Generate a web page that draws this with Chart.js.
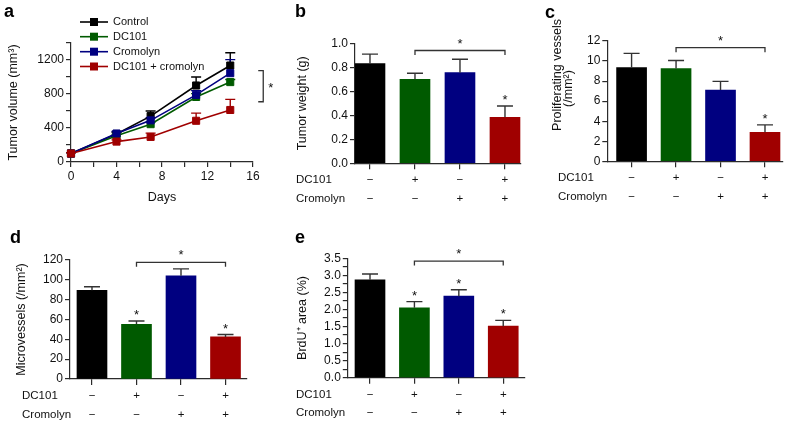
<!DOCTYPE html>
<html>
<head>
<meta charset="utf-8">
<script src="https://cdn.jsdelivr.net/npm/chart.js@4.4.1/dist/chart.umd.min.js"></script>
<style>
  html, body { margin: 0; padding: 0; background: #fff; }
  #fig { position: relative; width: 787px; height: 421px; overflow: hidden; }
  #fig canvas { position: absolute; }
</style>
</head>
<body>
<div id="fig">
  <canvas id="panelA" width="290" height="210" style="left:0;top:0"></canvas>
  <canvas id="panelB" width="250" height="210" style="left:285px;top:0"></canvas>
  <canvas id="panelC" width="252" height="210" style="left:535px;top:0"></canvas>
  <canvas id="panelD" width="290" height="211" style="left:0;top:210px"></canvas>
  <canvas id="panelE" width="250" height="211" style="left:285px;top:210px"></canvas>
</div>
<script>
// ---- data ----
const days = [0, 4, 7, 11, 14];
const controlVol = [100, 330, 540, 900, 1135];
const controlErr = [10, 20, 60, 100, 150];
const dc101Vol = [100, 310, 445, 765, 940];
const dc101Err = [10, 15, 25, 40, 30];
const cromolynVol = [100, 335, 490, 790, 1045];
const cromolynErr = [10, 25, 30, 50, 160];
const comboVol = [100, 240, 295, 485, 612];
const comboErr = [10, 20, 45, 90, 125];

const groups = ['Control', 'DC101', 'Cromolyn', 'DC101 + cromolyn'];
const dc101Signs = ['\u2212', '+', '\u2212', '+'];
const cromolynSigns = ['\u2212', '\u2212', '+', '+'];

const tumorWeight = [0.83, 0.70, 0.755, 0.383];
const tumorWeightErr = [0.08, 0.05, 0.112, 0.095];
const prolifVessels = [9.35, 9.25, 7.1, 2.9];
const prolifVesselsErr = [1.42, 0.8, 0.87, 0.73];
const microvessels = [89.4, 55.2, 104, 42.4];
const microvesselsErr = [3.6, 3.3, 7.1, 2.5];
const brduArea = [2.87, 2.05, 2.39, 1.51];
const brduAreaErr = [0.17, 0.18, 0.19, 0.17];

// ---- styling ----
const COLORS = ['#000000', '#005a00', '#000080', '#a00000'];
const FONT = '"Liberation Sans", Arial, Helvetica, sans-serif';
const INK = '#111111';
const AXIS = '#2b2b2b';
const tickFont = { family: FONT, size: 12 };
const titleFont = { family: FONT, size: 12.5 };

function drawErrors(chart, spec) {
  const ctx = chart.ctx;
  const ys = chart.scales.y;
  ctx.save();
  chart.data.datasets.forEach((ds, di) => {
    const errs = spec.errors[di];
    if (!errs) return;
    const meta = chart.getDatasetMeta(di);
    meta.data.forEach((el, i) => {
      const top = ys.getPixelForValue(ds.data[i].y + errs[i]);
      ctx.strokeStyle = spec.errColor || ds.borderColor;
      ctx.lineWidth = 1.4;
      ctx.beginPath();
      ctx.moveTo(el.x, el.y);
      ctx.lineTo(el.x, top);
      ctx.moveTo(el.x - spec.capWidth / 2, top);
      ctx.lineTo(el.x + spec.capWidth / 2, top);
      ctx.stroke();
    });
  });
  ctx.restore();
}

function drawStar(ctx, x, yCenter) {
  ctx.font = '13px ' + FONT;
  ctx.fillStyle = INK;
  ctx.textAlign = 'center';
  ctx.textBaseline = 'alphabetic';
  ctx.fillText('*', x, yCenter + 7.6);
}

function extrasPlugin(spec) {
  return {
    id: 'extras',
    beforeDatasetsDraw(chart) {
      if (spec.errorsBehind) drawErrors(chart, spec);
    },
    afterDatasetsDraw(chart) {
      if (!spec.errorsBehind) drawErrors(chart, spec);
    },
    afterDraw(chart) {
      const ctx = chart.ctx;
      const xs = chart.scales.x, ys = chart.scales.y;
      const area = chart.chartArea;
      ctx.save();

      // panel letter
      ctx.font = 'bold 18px ' + FONT;
      ctx.fillStyle = '#000';
      ctx.textAlign = 'left';
      ctx.textBaseline = 'alphabetic';
      ctx.fillText(spec.letter, spec.letterX, spec.letterY);

      // y title drawn line by line when lines are offset from each other
      if (spec.titleLines) {
        ctx.font = '12.5px ' + FONT;
        ctx.fillStyle = INK;
        ctx.textAlign = 'center';
        ctx.textBaseline = 'middle';
        spec.titleLines.forEach(t => {
          ctx.save();
          ctx.translate(t.x, t.y);
          ctx.rotate(-Math.PI / 2);
          ctx.fillText(t.text, 0, 0);
          ctx.restore();
        });
      }

      ctx.strokeStyle = '#333';
      ctx.lineWidth = 1.3;

      // stars above selected bars
      (spec.stars || []).forEach(i => {
        const ds = chart.data.datasets[0];
        const el = chart.getDatasetMeta(0).data[i];
        const top = ys.getPixelForValue(ds.data[i].y + spec.errors[0][i]);
        drawStar(ctx, el.x, top - 9.5);
      });

      // horizontal bracket between two bars
      if (spec.bracket) {
        const b = spec.bracket;
        const y = ys.getPixelForValue(b.value);
        const x1 = xs.getPixelForValue(b.from), x2 = xs.getPixelForValue(b.to);
        ctx.beginPath();
        ctx.moveTo(x1, y + 4.5);
        ctx.lineTo(x1, y);
        ctx.lineTo(x2, y);
        ctx.lineTo(x2, y + 4.5);
        ctx.stroke();
        drawStar(ctx, (x1 + x2) / 2, y - 10.5);
      }

      // vertical bracket at the right (panel a)
      if (spec.sideBracket) {
        const s = spec.sideBracket;
        const x = xs.getPixelForValue(s.x);
        const y1 = ys.getPixelForValue(s.to), y2 = ys.getPixelForValue(s.from);
        ctx.beginPath();
        ctx.moveTo(x - 5, y1);
        ctx.lineTo(x, y1);
        ctx.lineTo(x, y2);
        ctx.lineTo(x - 5, y2);
        ctx.stroke();
        drawStar(ctx, x + 7.5, (y1 + y2) / 2 - 2);
      }

      // treatment rows under the bars
      if (spec.rows) {
        ctx.font = '11.5px ' + FONT;
        ctx.fillStyle = INK;
        ctx.textBaseline = 'middle';
        spec.rows.forEach((row, r) => {
          const y = area.bottom + spec.rowY[r];
          ctx.textAlign = 'left';
          ctx.fillText(row.label, spec.rowX, y);
          ctx.textAlign = 'center';
          row.signs.forEach((sg, i) => ctx.fillText(sg, xs.getPixelForValue(i), y));
        });
      }

      // legend (panel a)
      if (spec.legend) {
        const L = spec.legend;
        ctx.font = '11px ' + FONT;
        ctx.textBaseline = 'middle';
        ctx.textAlign = 'left';
        chart.data.datasets.forEach((ds, i) => {
          const y = L.y[i];
          ctx.strokeStyle = ds.borderColor;
          ctx.lineWidth = 1.6;
          ctx.beginPath();
          ctx.moveTo(L.x1, y);
          ctx.lineTo(L.x2, y);
          ctx.stroke();
          ctx.fillStyle = ds.borderColor;
          const m = (L.x1 + L.x2) / 2;
          ctx.fillRect(m - 4, y - 4, 8, 8);
          ctx.fillStyle = INK;
          ctx.fillText(ds.label, L.textX, y);
        });
      }
      ctx.restore();
    }
  };
}

function yAxis(o) {
  return {
    type: 'linear', min: o.min, max: o.max, z: 1,
    ticks: { stepSize: o.step, callback: o.fmt, color: INK, font: tickFont, padding: 2, autoSkip: false },
    grid: { drawOnChartArea: false, color: AXIS, tickLength: 5, lineWidth: 1.2 },
    border: { color: AXIS, width: 1.2 },
    title: {
      display: !!o.title, text: o.title || '', color: INK,
      font: titleFont,
      padding: { top: o.titlePad || 0, bottom: 0 }
    },
    afterFit: s => { s.width = o.width; }
  };
}

function barX(min, max, height) {
  return {
    type: 'linear', min: min, max: max, z: 1, offset: false,
    afterBuildTicks: s => { s.ticks = groups.map((g, i) => ({ value: i })); },
    ticks: { display: false },
    grid: { drawOnChartArea: false, offset: false, color: AXIS, tickLength: 6, lineWidth: 1.2 },
    border: { color: AXIS, width: 1.2 },
    afterFit: s => { s.height = height; }
  };
}

const baseOptions = (pad, scales) => ({
  responsive: false,
  animation: false,
  events: [],
  layout: { padding: pad },
  plugins: { legend: { display: false }, tooltip: { enabled: false } },
  scales: scales
});

const treatmentRows = [
  { label: 'DC101', signs: dc101Signs },
  { label: 'Cromolyn', signs: cromolynSigns }
];

function barChart(id, values, errs, o) {
  return new Chart(document.getElementById(id), {
    type: 'bar',
    data: {
      datasets: [{
        data: values.map((v, i) => ({ x: i, y: v })),
        backgroundColor: COLORS,
        borderColor: COLORS,
        borderWidth: 0,
        barThickness: 30
      }]
    },
    options: baseOptions({ top: o.top, right: o.right, left: 0, bottom: 0 }, {
      x: barX(o.xmin, o.xmax, o.xh),
      y: yAxis(o.y)
    }),
    plugins: [extrasPlugin({
      letter: o.letter, letterX: 10, letterY: o.letterY,
      titleLines: o.titleLines,
      errors: [errs], errColor: '#333', capWidth: 16,
      stars: o.stars, bracket: o.bracket,
      rows: treatmentRows, rowX: o.rowX, rowY: [17, 35.5]
    })]
  });
}

// ---- panel a: tumor volume over time ----
const volumeSeries = [controlVol, dc101Vol, cromolynVol, comboVol];
const volumeErrs = [controlErr, dc101Err, cromolynErr, comboErr];
new Chart(document.getElementById('panelA'), {
  type: 'line',
  data: {
    datasets: volumeSeries.map((vals, k) => ({
      label: groups[k],
      data: days.map((d, i) => ({ x: d, y: vals[i] })),
      borderColor: COLORS[k],
      backgroundColor: COLORS[k],
      borderWidth: 1.6,
      pointStyle: 'rect',
      pointRadius: 5,
      pointBorderWidth: 1,
      tension: 0,
      clip: false,
      order: 3 - k
    }))
  },
  options: baseOptions({ top: 43, right: 37, left: 0, bottom: 0 }, {
    x: {
      type: 'linear', min: 0, max: 16, z: 1,
      ticks: { stepSize: 2, callback: v => (v % 4 === 0 ? v : ''), color: INK, font: tickFont, padding: 2, autoSkip: false, maxRotation: 0 },
      grid: { drawOnChartArea: false, color: AXIS, tickLength: 5, lineWidth: 1.2 },
      border: { color: AXIS, width: 1.2 },
      title: { display: true, text: 'Days', color: INK, font: titleFont, padding: { top: 0, bottom: 4.5 } },
      afterFit: s => { s.height = 48; }
    },
    y: yAxis({
      min: 0, max: 1400, step: 200,
      fmt: v => (v % 400 === 0 && v <= 1200 ? v : ''),
      title: 'Tumor volume (mm\u00b3)', titlePad: 6, width: 71
    })
  }),
  plugins: [extrasPlugin({
    letter: 'a', letterX: 4, letterY: 17,
    errors: volumeErrs, capWidth: 10, errorsBehind: true,
    sideBracket: { x: 16.9, from: 709, to: 1074 },
    legend: { x1: 80, x2: 108, textX: 113, y: [22, 36.7, 51.7, 66.5] }
  })]
});

// ---- panel b: tumor weight ----
barChart('panelB', tumorWeight, tumorWeightErr, {
  letter: 'b', letterY: 17, top: 43.3, right: 14, xh: 46.7,
  xmin: -0.333, xmax: 3.356, rowX: 11,
  stars: [3], bracket: { from: 1, to: 3, value: 0.94 },
  y: { min: 0, max: 1, step: 0.2, fmt: v => v.toFixed(1), title: 'Tumor weight (g)', titlePad: 10, width: 70 }
});

// ---- panel c: proliferating vessels ----
barChart('panelC', prolifVessels, prolifVesselsErr, {
  letter: 'c', letterY: 18, top: 41, right: 4, xh: 48.7,
  xmin: -0.546, xmax: 3.405, rowX: 23,
  stars: [3], bracket: { from: 1, to: 3, value: 11.33 },
  titleLines: [
    { text: 'Proliferating vessels', x: 22.5, y: 75 },
    { text: '(/mm\u00b2)', x: 33.5, y: 88.5 }
  ],
  y: { min: 0, max: 12, step: 2, fmt: v => v, width: 72.3 }
});

// ---- panel d: microvessels ----
barChart('panelD', microvessels, microvesselsErr, {
  letter: 'd', letterY: 33, top: 50, right: 43, xh: 42,
  xmin: -0.494, xmax: 3.483, rowX: 22,
  stars: [1, 3], bracket: { from: 1, to: 3, value: 117.7 },
  y: { min: 0, max: 120, step: 20, fmt: v => v, title: 'Microvessels (/mm\u00b2)', titlePad: 14.5, width: 70 }
});

// ---- panel e: BrdU+ area ----
barChart('panelE', brduArea, brduAreaErr, {
  letter: 'e', letterY: 33, top: 48.3, right: 10, xh: 43.3,
  xmin: -0.5, xmax: 3.49, rowX: 11,
  stars: [1, 2, 3], bracket: { from: 1, to: 3, value: 3.42 },
  y: { min: 0, max: 3.5, step: 0.25, fmt: v => (Math.round(v * 100) % 50 === 0 ? v.toFixed(1) : ''), title: 'BrdU\u207a area (%)', titlePad: 10.5, width: 62.8 }
});
</script>
</body>
</html>
